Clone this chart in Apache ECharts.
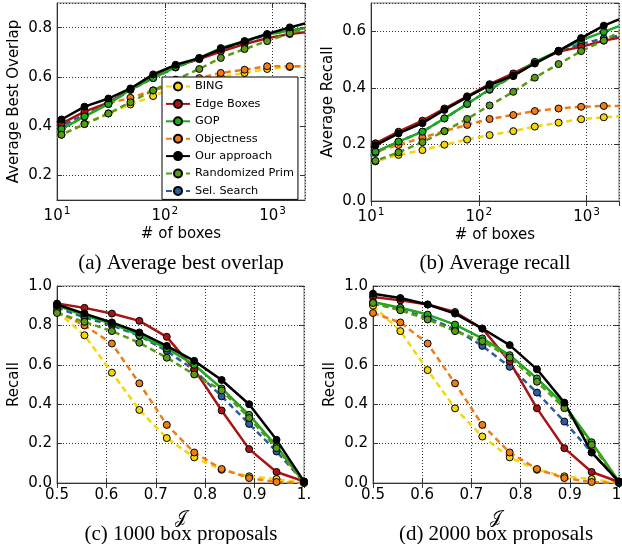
<!DOCTYPE html>
<html><head><meta charset="utf-8">
<script src="https://cdn.jsdelivr.net/npm/echarts@6/dist/echarts.min.js"></script>
<style>html,body{margin:0;padding:0;background:#fff}#c{width:622px;height:544px}</style>
</head><body><div id="c"></div>
<script>
// ---------------- data ----------------
const methods = ['BING', 'Edge Boxes', 'GOP', 'Objectness', 'Our approach', 'Randomized Prim', 'Sel. Search'];
const boxes = [11, 18, 30, 48, 78, 126, 209, 331, 550, 891, 1445];
const boxRange = [10, 2000];
const iou = [0.5, 0.5556, 0.6111, 0.6667, 0.7222, 0.7778, 0.8333, 0.8889, 0.9444, 1.0];

// (a) Average best overlap, per method, at boxes
const aboBING = [0.365, 0.41, 0.452, 0.488, 0.522, 0.56, 0.59, 0.60, 0.616, 0.632, 0.64];
const aboEdge = [0.41, 0.459, 0.495, 0.549, 0.599, 0.643, 0.672, 0.703, 0.733, 0.757, 0.774];
const aboGOP  = [0.388, 0.439, 0.49, 0.549, 0.595, 0.64, 0.677, 0.717, 0.745, 0.772, 0.788];
const aboObj  = [0.388, 0.439, 0.492, 0.515, 0.545, 0.57, 0.595, 0.616, 0.629, 0.643, 0.643];
const aboOurs = [0.427, 0.479, 0.512, 0.553, 0.61, 0.649, 0.676, 0.713, 0.745, 0.774, 0.801];
const aboPrim = [0.365, 0.408, 0.451, 0.497, 0.545, 0.589, 0.632, 0.677, 0.713, 0.745, 0.777];
const aboSel  = [0.40, 0.447, 0.49, 0.547, 0.595, 0.638, 0.675, 0.712, 0.742, 0.77, 0.79];
// line values at the ends of the box range (10 and 2000), in methods order
const aboStart = [0.355, 0.40, 0.372, 0.372, 0.415, 0.355, 0.385];
const aboEnd   = [0.643, 0.781, 0.797, 0.643, 0.817, 0.795, 0.797];

// (b) Average recall
const arBING = [0.14, 0.163, 0.18, 0.199, 0.217, 0.233, 0.247, 0.263, 0.277, 0.289, 0.296];
const arEdge = [0.204, 0.245, 0.284, 0.327, 0.37, 0.413, 0.451, 0.489, 0.528, 0.545, 0.567];
const arGOP  = [0.174, 0.21, 0.245, 0.292, 0.343, 0.395, 0.442, 0.492, 0.531, 0.569, 0.598];
const arObj  = [0.175, 0.198, 0.224, 0.247, 0.269, 0.29, 0.304, 0.318, 0.327, 0.333, 0.336];
const arOurs = [0.197, 0.239, 0.275, 0.322, 0.367, 0.41, 0.443, 0.486, 0.531, 0.576, 0.62];
const arPrim = [0.142, 0.172, 0.208, 0.247, 0.29, 0.338, 0.386, 0.436, 0.484, 0.53, 0.567];
const arSel  = [0.17, 0.21, 0.245, 0.292, 0.343, 0.393, 0.442, 0.49, 0.53, 0.555, 0.575];
const arStart = [0.133, 0.195, 0.16, 0.165, 0.188, 0.133, 0.158];
const arEnd   = [0.299, 0.577, 0.618, 0.336, 0.642, 0.598, 0.585];

// (c) Recall vs IoU, 1000 proposals
const r1kBING = [0.87, 0.75, 0.56, 0.371, 0.228, 0.13, 0.067, 0.034, 0.02, 0.0];
const r1kEdge = [0.911, 0.889, 0.86, 0.823, 0.742, 0.577, 0.368, 0.172, 0.056, 0.008];
const r1kGOP  = [0.902, 0.85, 0.81, 0.75, 0.683, 0.60, 0.48, 0.346, 0.186, 0.005];
const r1kObj  = [0.87, 0.80, 0.708, 0.506, 0.295, 0.155, 0.071, 0.025, 0.005, 0.0];
const r1kOurs = [0.906, 0.86, 0.815, 0.764, 0.696, 0.62, 0.523, 0.40, 0.219, 0.008];
const r1kPrim = [0.863, 0.818, 0.771, 0.712, 0.636, 0.551, 0.47, 0.33, 0.177, 0.003];
const r1kSel  = [0.89, 0.84, 0.80, 0.747, 0.67, 0.573, 0.44, 0.30, 0.16, 0.005];

// (d) Recall vs IoU, 2000 proposals
const r2kBING = [0.90, 0.771, 0.573, 0.379, 0.236, 0.13, 0.067, 0.034, 0.02, 0.0];
const r2kEdge = [0.944, 0.927, 0.906, 0.868, 0.784, 0.616, 0.379, 0.177, 0.056, 0.005];
const r2kGOP  = [0.919, 0.89, 0.855, 0.804, 0.734, 0.649, 0.531, 0.396, 0.207, 0.008];
const r2kObj  = [0.863, 0.815, 0.708, 0.506, 0.295, 0.155, 0.071, 0.025, 0.005, 0.0];
const r2kOurs = [0.961, 0.939, 0.906, 0.86, 0.784, 0.70, 0.577, 0.408, 0.155, 0.007];
const r2kPrim = [0.914, 0.877, 0.83, 0.771, 0.72, 0.637, 0.514, 0.38, 0.194, 0.005];
const r2kSel  = [0.91, 0.88, 0.84, 0.78, 0.696, 0.59, 0.459, 0.312, 0.155, 0.005];

const captions = ['(a) Average best overlap', '(b) Average recall', '(c) 1000 box proposals', '(d) 2000 box proposals'];
const yNames = ['Average Best Overlap', 'Average Recall', 'Recall', 'Recall'];

// ---------------- styles ----------------
const colors = ['#f4d60f', '#a81414', '#1ea81e', '#f07c17', '#000000', '#5a9a16', '#2d5d9e'];
const dashed = [true, false, false, true, false, true, true];
const zOrder = [1, 3, 4, 2, 6, 5, 0];

const panels = [
  {vals: [aboBING, aboEdge, aboGOP, aboObj, aboOurs, aboPrim, aboSel], start: aboStart, end: aboEnd, log: true},
  {vals: [arBING, arEdge, arGOP, arObj, arOurs, arPrim, arSel], start: arStart, end: arEnd, log: true},
  {vals: [r1kBING, r1kEdge, r1kGOP, r1kObj, r1kOurs, r1kPrim, r1kSel], log: false},
  {vals: [r2kBING, r2kEdge, r2kGOP, r2kObj, r2kOurs, r2kPrim, r2kSel], log: false}
];

const grids = [
  {left: 57, top: 3, width: 248, height: 197},
  {left: 371, top: 3, width: 248, height: 198},
  {left: 57, top: 286, width: 247, height: 197},
  {left: 373, top: 286, width: 246, height: 197}
];

const tickFont = 'DejaVu Sans';
const gridLine = {show: true, lineStyle: {color: '#333', type: [1, 2], width: 1}};
const axisLine = {show: true, lineStyle: {color: '#333', width: 1}};
const axisTick = {show: true, inside: true, length: 5, lineStyle: {color: '#333'}};

function logLabel(v) {
  const e = Math.round(Math.log10(v));
  if (Math.abs(v - Math.pow(10, e)) > 1e-6 * v) return '';
  return '{b|10}{s|' + e + '}';
}

const yCfgs = [
  {min: 0.1, max: 0.9, splitNumber: 4},
  {min: 0, max: 0.7, interval: 0.2},
  {min: 0, max: 1.0, interval: 0.2},
  {min: 0, max: 1.0, interval: 0.2}
];

const xAxes = [], yAxes = [], series = [];
const xScale = k => panels[k].log
  ? {type: 'log', logBase: 10, min: boxRange[0], max: boxRange[1]}
  : {type: 'value', min: 0.5, max: 1.0, interval: 0.1};

panels.forEach((p, k) => {
  const xa = Object.assign({gridIndex: k, axisLine, axisTick, splitLine: gridLine}, xScale(k));
  if (p.log) {
    Object.assign(xa, {
      axisLabel: {formatter: logLabel, showMaxLabel: false, margin: 6,
        rich: {b: {fontSize: 15, fontFamily: tickFont, color: '#000'},
               s: {fontSize: 10.5, fontFamily: tickFont, color: '#000', verticalAlign: 'top', padding: [0, 0, 9, 1]}}},
      name: '# of boxes', nameLocation: 'middle', nameGap: 27,
      nameTextStyle: {fontSize: 15, fontFamily: tickFont, color: '#000'}
    });
  } else {
    Object.assign(xa, {
      axisLabel: {fontSize: 15, fontFamily: tickFont, color: '#000', margin: 5,
        formatter: v => (Math.abs(v - 1) < 1e-9 ? '1.' : v.toFixed(1))},
      name: '𝒥', nameLocation: 'middle', nameGap: 27,
      nameTextStyle: {fontSize: 17, fontFamily: 'DejaVu Serif', color: '#000'}
    });
  }
  xAxes.push(xa);
  yAxes.push(Object.assign({
    type: 'value', gridIndex: k, axisLine, axisTick, splitLine: gridLine,
    axisLabel: {fontSize: 15, fontFamily: tickFont, color: '#000', margin: 5,
      showMinLabel: k !== 0, showMaxLabel: k >= 2,
      formatter: v => v.toFixed(1)},
    name: yNames[k], nameLocation: 'middle', nameGap: 35,
    nameTextStyle: {fontSize: 15, fontFamily: tickFont, color: '#000'}
  }, yCfgs[k]));

  methods.forEach((m, i) => {
    let data;
    if (p.log) {
      data = [{value: [boxRange[0], p.start[i]], symbol: 'none'}]
        .concat(boxes.map((b, j) => [b, p.vals[i][j]]))
        .concat([{value: [boxRange[1], p.end[i]], symbol: 'none'}]);
    } else {
      data = iou.map((t, j) => [t, p.vals[i][j]]);
    }
    series.push({
      type: 'line', name: m, xAxisIndex: k, yAxisIndex: k, data,
      symbol: 'circle', symbolSize: 7, showSymbol: true, smooth: false, clip: true,
      lineStyle: {color: colors[i], width: 2.5, type: dashed[i] ? [6, 4] : 'solid'},
      itemStyle: {color: colors[i], borderColor: '#000', borderWidth: 1},
      emphasis: {disabled: true}, animation: false, z: 2, zlevel: 0,
      order: zOrder[i]
    });
  });
});
// sort series so drawing order follows zOrder (later = on top)
series.sort((a, b) => a.order - b.order);
series.forEach(s => delete s.order);

// mirror ticks on top and right spines
panels.forEach((p, k) => {
  xAxes.push(Object.assign({gridIndex: k, position: 'top', axisLine: {show: false}, axisTick,
    axisLabel: {show: false}, splitLine: {show: false}}, xScale(k)));
  yAxes.push(Object.assign({type: 'value', gridIndex: k, position: 'right', axisLine: {show: false}, axisTick,
    axisLabel: {show: false}, splitLine: {show: false}}, yCfgs[k]));
});

const capPos = [[181, 263], [495, 263], [181, 534], [496, 534]];
const graphics = captions.map((t, k) => ({
  type: 'text', x: capPos[k][0], y: capPos[k][1],
  style: {text: t, font: '21px "Liberation Serif"', fill: '#000', align: 'center', verticalAlign: 'middle'}
}));

const chart = echarts.init(document.getElementById('c'), null, {renderer: 'canvas'});
chart.setOption({
  animation: false,
  backgroundColor: '#fff',
  grid: grids.map(g => Object.assign({show: true, borderColor: '#777', borderWidth: 1, backgroundColor: 'transparent', outerBoundsMode: 'none'}, g)),
  xAxis: xAxes,
  yAxis: yAxes,
  legend: {
    data: methods, orient: 'vertical', left: 162, top: 77,
    backgroundColor: '#fff', borderColor: '#000', borderWidth: 1,
    padding: [4, 4, 3, 3], itemWidth: 24, itemHeight: 10, itemGap: 6.4,
    textStyle: {fontSize: 11.3, fontFamily: tickFont, color: '#000'},
    selectedMode: false, z: 10
  },
  series,
  graphic: graphics
});
</script></body></html>
